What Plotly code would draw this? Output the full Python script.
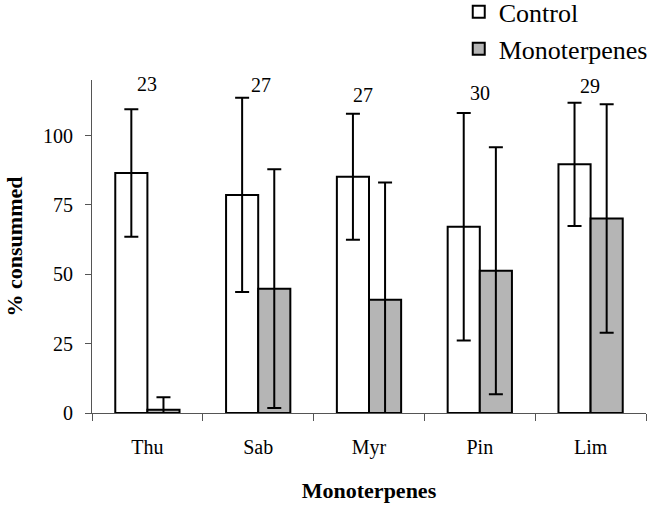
import plotly.graph_objects as go

categories = ["Thu", "Sab", "Myr", "Pin", "Lim"]
control_mean = [86.5, 78.6, 85.1, 67.1, 89.6]
control_err = [23.0, 35.0, 22.7, 41.0, 22.2]
mono_mean = [1.2, 44.8, 40.8, 51.3, 70.1]
mono_err = [4.5, 43.0, 42.3, 44.5, 41.2]
n_values = [23, 27, 27, 30, 29]
n_label_y = [118.5, 118.2, 114.6, 115.3, 117.8]
n_label_xshift = [0, 3, -6, 0, -1]

FONT = "Liberation Serif, Times New Roman, serif"

fig = go.Figure()
fig.add_trace(go.Bar(
    x=categories, y=control_mean, name="Control",
    marker=dict(color="white", line=dict(color="black", width=2)),
    error_y=dict(type="data", array=control_err, visible=True,
                 color="black", thickness=2, width=7),
))
fig.add_trace(go.Bar(
    x=categories, y=mono_mean, name="Monoterpenes",
    marker=dict(color="#b5b5b5", line=dict(color="black", width=2)),
    error_y=dict(type="data", array=mono_err, visible=True,
                 color="black", thickness=2, width=7),
))

for c, n, yy, xs in zip(categories, n_values, n_label_y, n_label_xshift):
    fig.add_annotation(x=c, y=yy, text=str(n), showarrow=False, xshift=xs,
                       font=dict(family=FONT, size=20, color="black"))

fig.update_layout(
    width=649, height=507,
    margin=dict(l=92, r=3, t=80, b=94, autoexpand=False),
    paper_bgcolor="white", plot_bgcolor="white",
    barmode="group", bargap=0.42, bargroupgap=0,
    font=dict(family=FONT, size=20, color="black"),
    showlegend=True,
    legend=dict(x=0.662, y=1.275, xanchor="left", yanchor="top",
                itemwidth=30,
                font=dict(family=FONT, size=26, color="black"),
                bgcolor="rgba(0,0,0,0)", traceorder="normal"),
)
fig.update_xaxes(
    showline=True, linecolor="#555", linewidth=1,
    ticks="outside", tickson="boundaries", ticklen=7, tickcolor="#555",
    ticklabelstandoff=16,
    tickfont=dict(family=FONT, size=20, color="black"),
    title=dict(text="<b>Monoterpenes</b>", font=dict(family=FONT, size=22, color="black"), standoff=24),
    showgrid=False, zeroline=False,
)
fig.update_yaxes(
    range=[0, 120], tickvals=[0, 25, 50, 75, 100],
    showline=True, linecolor="#555", linewidth=1,
    ticks="outside", ticklen=6, tickcolor="#555",
    ticklabelstandoff=8,
    tickfont=dict(family=FONT, size=20, color="black"),
    title=dict(text="<b>% consummed</b>", font=dict(family=FONT, size=22, color="black"), standoff=14),
    showgrid=False, zeroline=False,
)

fig.write_html("out.html")
